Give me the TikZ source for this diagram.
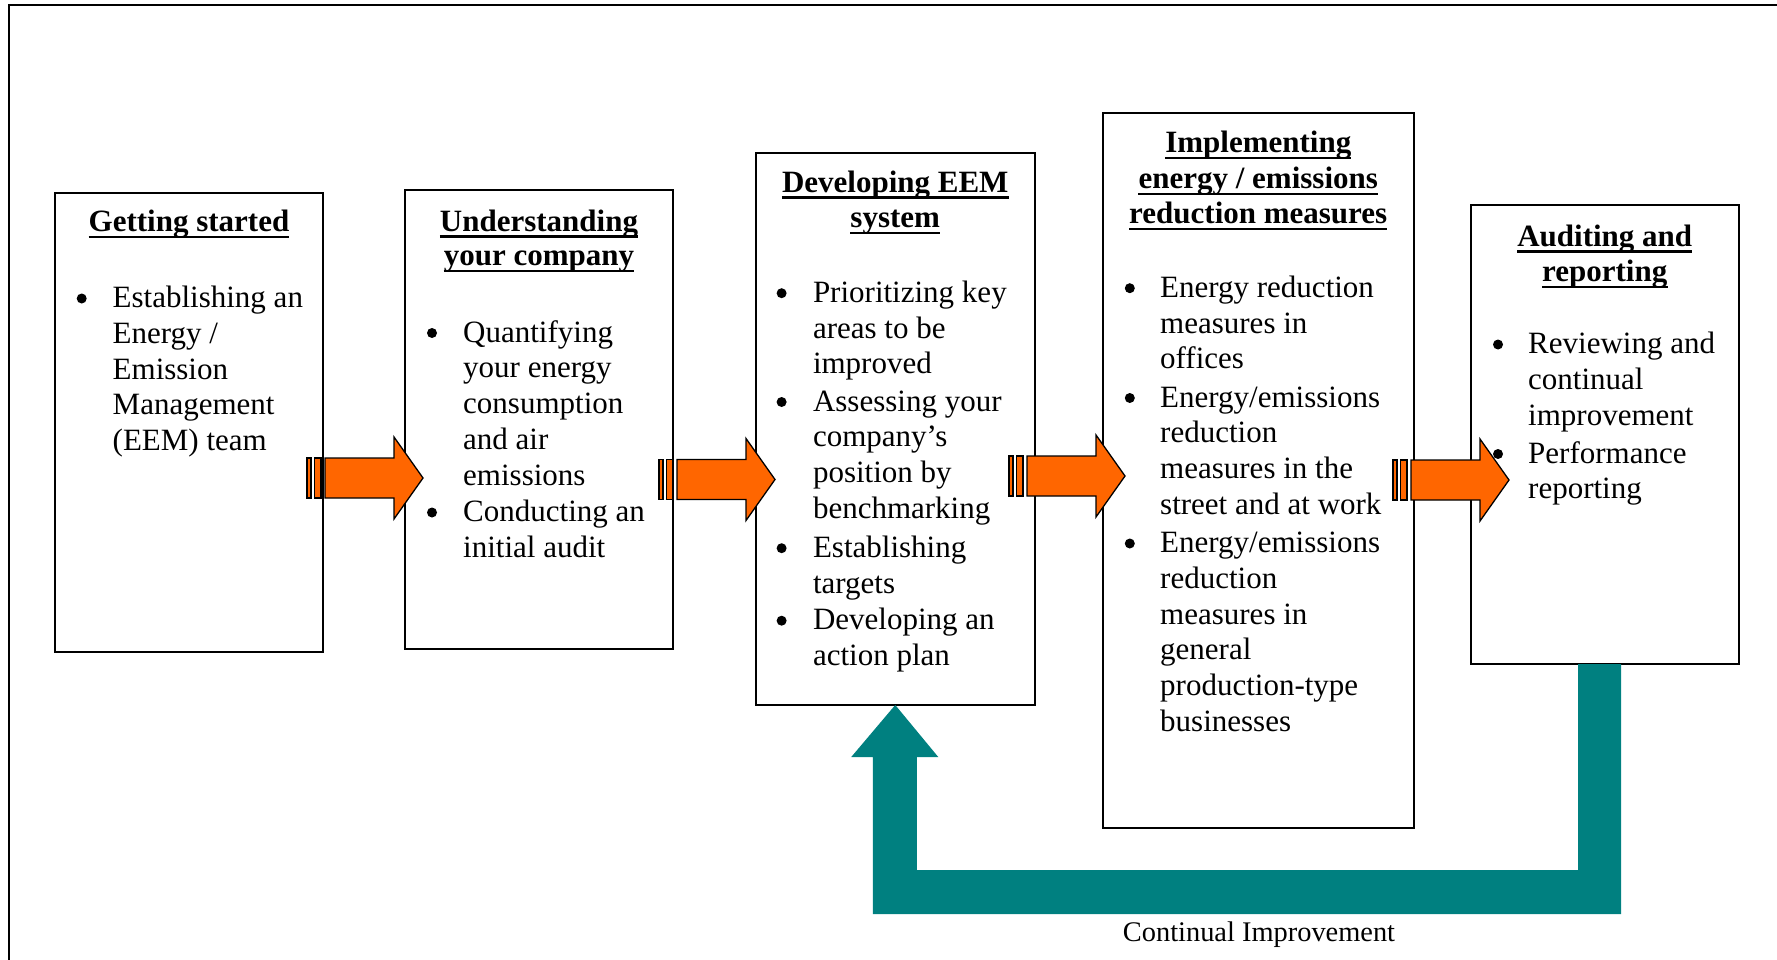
\documentclass[tikz,border=0pt]{standalone}
\usepackage{fontspec}
\setmainfont{Liberation Serif}
\usetikzlibrary{calc}

\definecolor{flowfill}{HTML}{FF6600}
\definecolor{loopteal}{HTML}{008080}

% stacked lines whose first baseline is the node's base
\newcommand\linesblock[1]{\begin{tabular}[t]{@{}l@{}}#1\end{tabular}}

% underlined heading line: name, position, text
\newcommand\headline[3]{%
  \node[heading] (#1) at #2 {#3};
  \draw[underl] ($(#1.base west)+(0,5.5)$) -- ($(#1.base east)+(0,5.5)$);}

% bulleted item: name, bullet x, text x, first baseline y, lines
\newcommand\stageitem[5]{%
  \node[bulletdot] (#1dot) at (#2,#4-9) {};
  \node[itemtext] (#1) at (#3,#4) {\linesblock{#5}};}

\begin{document}
\begin{tikzpicture}[x=1pt,y=-1pt,
  stagebox/.style={draw=black, line width=2pt, rectangle, inner sep=0pt, outer sep=0pt},
  heading/.style={font=\fontsize{31}{35.8}\selectfont\bfseries, anchor=base, inner sep=0pt},
  itemtext/.style={font=\fontsize{31}{35.8}\selectfont, anchor=base west, inner sep=0pt},
  bulletdot/.style={circle, fill=black, inner sep=0pt, minimum size=10pt},
  underl/.style={line width=2.5pt},
  arrowpart/.style={fill=flowfill, draw=black, line width=1.3pt, line join=miter},
  flowarrow/.pic={
    \filldraw[arrowpart] (0,-20) rectangle (4,20);
    \filldraw[arrowpart] (7.5,-20) rectangle (14,20);
    \filldraw[arrowpart] (18,-20) -- (87,-20) -- (87,-41) -- (116,0)
       -- (87,41) -- (87,20) -- (18,20) -- cycle;
  }]

\useasboundingbox (0,0) rectangle (1777,960);
\fill[white] (0,0) rectangle (1777,960);

% outer frame
\draw[line width=2pt] (8.7,960) -- (8.7,4.7) -- (1777,4.7);

% stage boxes
\node[stagebox, minimum width=268pt,   minimum height=459pt]   (b1) at (189,422.5) {};
\node[stagebox, minimum width=268pt,   minimum height=459pt]   (b2) at (539,419.5) {};
\node[stagebox, minimum width=279.5pt, minimum height=552.4pt] (b3) at (895.25,428.8) {};
\node[stagebox, minimum width=311.5pt, minimum height=715pt]   (b4) at (1258.25,470.5) {};
\node[stagebox, minimum width=268.5pt, minimum height=458.5pt] (b5) at (1604.75,434.75) {};

% arrows between stages
\pic (a1) at (307,478) {flowarrow};
\pic (a2) at (659,479.5) {flowarrow};
\pic (a3) at (1009,476) {flowarrow};
\pic (a4) at (1393,480) {flowarrow};

% feedback loop from auditing back to the EEM system
\fill[loopteal] (b3.south) -- ++(43,52) -- ++(-21.5,0)
   |- ($(b5.south west)+(107.5,206)$) -- ($(b5.south west)+(107.5,0)$)
   -- ++(43,0) |- ($(b3.south)+(-22.5,209)$) -- ++(0,-157) -- ++(-21.5,0) -- cycle;
\node[font=\fontsize{28.4}{32}\selectfont, anchor=base, inner sep=0pt] (ci) at (1259,941) {Continual Improvement};

% stage 1
\headline{h1a}{(189,231.5)}{Getting started}
\stageitem{s1i1}{81.7}{112.5}{307.5}{Establishing an\\Energy /\\Emission\\Management\\(EEM) team}

% stage 2
\headline{h2a}{(539,231)}{Understanding}
\headline{h2b}{(539,265.5)}{your company}
\stageitem{s2i1}{432}{463}{342}{Quantifying\\your energy\\consumption\\and air\\emissions}
\stageitem{s2i2}{432}{463}{521.5}{Conducting an\\initial audit}

% stage 3
\headline{h3a}{(895.25,192.2)}{Developing EEM}
\headline{h3b}{(895.25,227.5)}{system}
\stageitem{s3i1}{781.6}{812.8}{302.2}{Prioritizing key\\areas to be\\improved}
\stageitem{s3i2}{781.6}{812.8}{411}{Assessing your\\company’s\\position by\\benchmarking}
\stageitem{s3i3}{781.6}{812.8}{557.2}{Establishing\\targets}
\stageitem{s3i4}{781.6}{812.8}{629.7}{Developing an\\action plan}

% stage 4
\headline{h4a}{(1258.25,152.5)}{Implementing}
\headline{h4b}{(1258.25,188.3)}{energy / emissions}
\headline{h4c}{(1258.25,223.5)}{reduction measures}
\stageitem{s4i1}{1129.8}{1160}{297.2}{Energy reduction\\measures in\\offices}
\stageitem{s4i2}{1129.8}{1160}{407}{Energy/emissions\\reduction\\measures in the\\street and at work}
\stageitem{s4i3}{1129.8}{1160}{552.5}{Energy/emissions\\reduction\\measures in\\general\\production-type\\businesses}

% stage 5
\headline{h5a}{(1604.75,246.1)}{Auditing and}
\headline{h5b}{(1604.75,281.5)}{reporting}
\stageitem{s5i1}{1498}{1528}{353.5}{Reviewing and\\continual\\improvement}
\stageitem{s5i2}{1498}{1528}{463}{Performance\\reporting}

\end{tikzpicture}
\end{document}
